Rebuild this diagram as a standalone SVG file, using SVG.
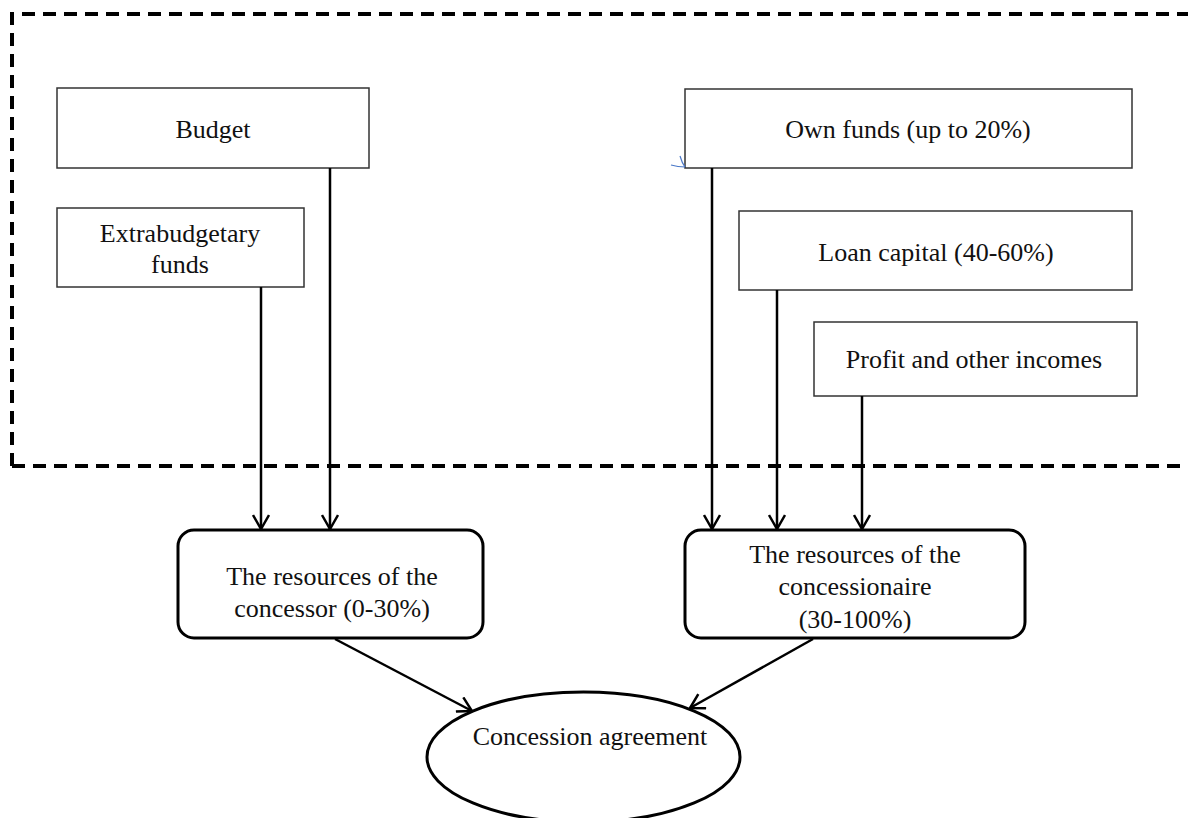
<svg xmlns="http://www.w3.org/2000/svg" width="1188" height="818" viewBox="0 0 1188 818">
  <style>
    .box { fill: #fff; stroke: #333; stroke-width: 1.5; }
    .res { fill: #fff; stroke: #000; stroke-width: 3; }
    .lbl { font-family: "Liberation Serif", "Times New Roman", serif; font-size: 26px; fill: #111; text-anchor: middle; }
    .conn { stroke: #000; stroke-width: 2.5; fill: none; marker-end: url(#arr); }
    .frame { stroke: #000; stroke-width: 4; fill: none; stroke-dasharray: 13 8; }
  </style>
  <defs>
    <marker id="arr" viewBox="0 0 16 18" refX="15" refY="9" markerWidth="16" markerHeight="18" markerUnits="userSpaceOnUse" orient="auto">
      <polyline points="1,1 15,9 1,17" fill="none" stroke="#000" stroke-width="2.5"/>
    </marker>
  </defs>

  <!-- dashed enclosure of the funding sources -->
  <path class="frame" d="M12,466 V14 H1188"/>
  <path class="frame" d="M12,466 H1188"/>

  <g id="budget">
    <rect class="box" x="57" y="88" width="312" height="80"/>
    <text class="lbl" x="213" y="138">Budget</text>
  </g>
  <g id="extrabudgetary">
    <rect class="box" x="57" y="208" width="247" height="79"/>
    <text class="lbl" x="180" y="242">Extrabudgetary</text>
    <text class="lbl" x="180" y="273">funds</text>
  </g>
  <g id="own-funds">
    <rect class="box" x="685" y="89" width="447" height="79"/>
    <text class="lbl" x="908" y="138">Own funds (up to 20%)</text>
  </g>
  <g id="loan-capital">
    <rect class="box" x="739" y="211" width="393" height="79"/>
    <text class="lbl" x="936" y="261">Loan capital (40-60%)</text>
  </g>
  <g id="profit">
    <rect class="box" x="814" y="322" width="323" height="74"/>
    <text class="lbl" x="974" y="368">Profit and other incomes</text>
  </g>
  <g id="concessor">
    <rect class="res" x="178" y="530" width="305" height="108" rx="16"/>
    <text class="lbl" x="332" y="585">The resources of the</text>
    <text class="lbl" x="332" y="617">concessor (0-30%)</text>
  </g>
  <g id="concessionaire">
    <rect class="res" x="685" y="530" width="340" height="108" rx="16"/>
    <text class="lbl" x="855" y="563">The resources of the</text>
    <text class="lbl" x="855" y="595">concessionaire</text>
    <text class="lbl" x="855" y="628">(30-100%)</text>
  </g>
  <g id="agreement">
    <ellipse class="res" cx="583.5" cy="757" rx="156.5" ry="65"/>
    <text class="lbl" x="590" y="745">Concession agreement</text>
  </g>

  <g id="connectors">
    <line class="conn" x1="330" y1="168" x2="330" y2="529"/>
    <line class="conn" x1="261" y1="287" x2="261" y2="529"/>
    <line class="conn" x1="712" y1="168" x2="712" y2="529"/>
    <line class="conn" x1="777" y1="290" x2="777" y2="529"/>
    <line class="conn" x1="862" y1="396" x2="862" y2="529"/>
    <line class="conn" x1="335" y1="639" x2="472" y2="711"/>
    <line class="conn" x1="813" y1="639" x2="690" y2="708"/>
  </g>

  <!-- small blue pen tick at the corner of the own-funds box -->
  <path d="M680,156 Q682,163 685,167 M671,165 Q678,167 685,167" fill="none" stroke="#4a78c8" stroke-width="1.2"/>
</svg>
